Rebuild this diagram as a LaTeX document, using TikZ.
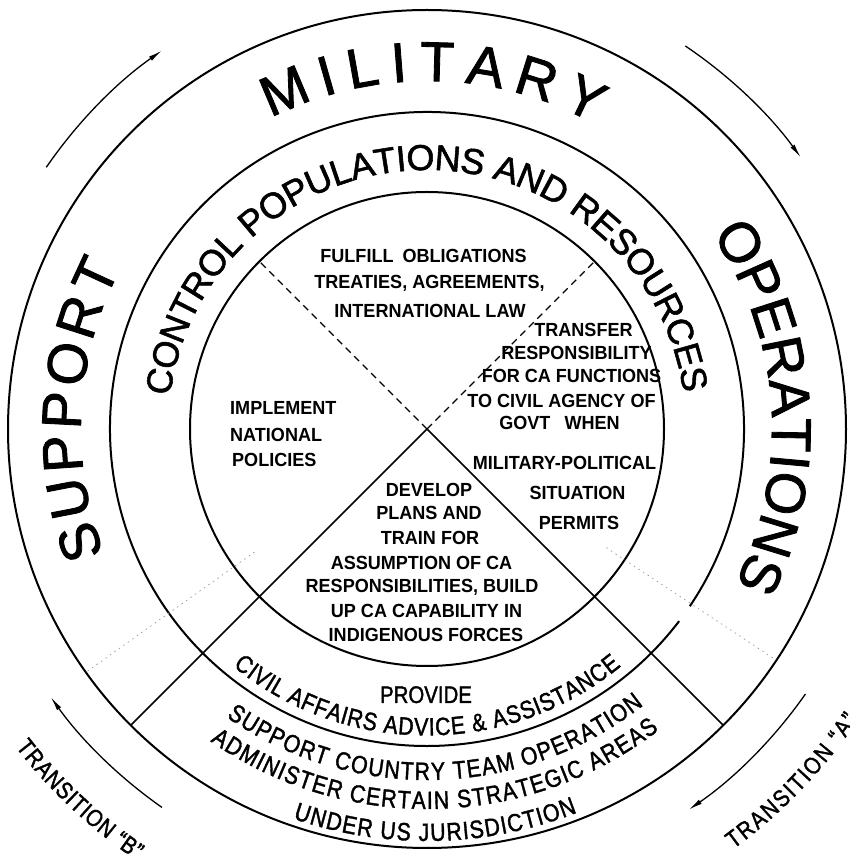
\documentclass[tikz,border=0pt]{standalone}
\usepackage{fontspec}
\setmainfont{Liberation Sans}
\newfontfamily\bigfont{Liberation Sans}[FakeBold=1.5]
\newfontfamily\ringfont{Liberation Sans}[FakeStretch=0.85, FakeBold=1.5]
\newfontfamily\innerfont{Liberation Sans}[FakeStretch=0.95]
\usetikzlibrary{arrows.meta}
\usetikzlibrary{calc}
\usetikzlibrary{decorations.text}

\newcommand\bigword{\bigfont\fontsize{56}{56}\selectfont}
\newcommand\midword{\bigfont\fontsize{36}{36}\selectfont}
\newcommand\lowword{\ringfont\fontsize{25}{25}\selectfont}
\newcommand\sideword{\ringfont\fontsize{24}{24}\selectfont}

\begin{document}
\begin{tikzpicture} [
  x = 1pt, y = 1pt,
  circ/.style = {draw, line width = 2pt},
  spoke/.style = {draw, line width = 1.6pt},
  dashline/.style = {draw, line width = 1.1pt, dash pattern = on 7pt off 5pt},
  faint/.style = {draw, black!45, line width = 0.6pt, dash pattern = on 1.5pt off 4pt},
  flow/.style = {draw, line width = 1.3pt, -{Latex[length=14pt,width=5pt]}},
  txt/.style = {font = \innerfont\bfseries\fontsize{19}{19}\selectfont, inner sep = 0pt, anchor = base},
  txtl/.style = {txt, anchor = base west},
  arctext/.style 2 args = {decorate, decoration = {text along path, text align = {fit to path}, raise = #1, text = {#2}}},
]
\useasboundingbox (0,0) rectangle (850,855);

\coordinate (c) at (427,426);

 \draw [circ] (c) circle [radius = 237];
 \draw [circ] ($(c)+(-34:317)$) arc [start angle = -34, end angle = 322.7, radius = 317];
 \draw [circ] (c) circle [radius = 419];

 \draw [spoke] (c) -- ++(-45:419);
 \draw [spoke] (c) -- ++(225:419);
 \draw [dashline] (c) -- ++(45:237);
 \draw [dashline] (c) -- ++(135:237);
 \draw [faint] ($(c)+(-33.5:215)$) -- ($(c)+(-33.5:418)$);
 \draw [faint] ($(c)+(215.5:212)$) -- ($(c)+(215.5:418)$);

 \draw [flow] ($(c)+(145.5:462)$) arc [start angle = 145.5, end angle = 125, radius = 462];
 \draw [flow] ($(c)+(56:462)$) arc [start angle = 56, end angle = 36, radius = 462];
 \draw [flow] ($(c)+(-35:462)$) arc [start angle = -35, end angle = -55.5, radius = 462];
 \draw [flow] ($(c)+(235:462)$) arc [start angle = 235, end angle = 215.5, radius = 462];

 \path [arctext = {-20pt}{|\bigword|MILITARY}] ($(c)+(116.5:368)$) arc [start angle = 116.5, end angle = 61.5, radius = 368];
 \path [arctext = {-20pt}{|\bigword|SUPPORT}] ($(c)+(201:366)$) arc [start angle = 201, end angle = 152.6, radius = 366];
 \path [arctext = {-20pt}{|\bigword|OPERATIONS}] ($(c)+(34.2:365)$) arc [start angle = 34.2, end angle = -26.5, radius = 365];
 \path [arctext = {-13pt}{|\midword|CONTROL POPULATIONS AND RESOURCES}] ($(c)+(172.6:272)$) arc [start angle = 172.6, end angle = 8.1, radius = 272];

 \path [arctext = {-9pt}{|\lowword|CIVIL AFFAIRS ADVICE {\&} ASSISTANCE}] ($(c)+(230.7:297.5)$) arc [start angle = 230.7, end angle = 309.3, radius = 297.5];
 \path [arctext = {-9pt}{|\lowword|SUPPORT COUNTRY TEAM OPERATION}] ($(c)+(235.1:342)$) arc [start angle = 235.1, end angle = 308.1, radius = 342];
 \path [arctext = {-9pt}{|\lowword|ADMINISTER CERTAIN STRATEGIC AREAS}] ($(c)+(235.2:371)$) arc [start angle = 235.2, end angle = 307.6, radius = 371];
 \path [arctext = {-9pt}{|\lowword|UNDER US JURISDICTION}] ($(c)+(251:403)$) arc [start angle = 251, end angle = 291.4, radius = 403];

 \path [arctext = {-8pt}{|\sideword|TRANSITION “B”}] ($(c)+(217.7:512)$) arc [start angle = 217.7, end angle = 236, radius = 512];
 \path [arctext = {-8pt}{|\sideword|TRANSITION “A”}] ($(c)+(306.1:512)$) arc [start angle = 306.1, end angle = 326, radius = 512];

 \node [txt] (ful) at (423.5,592) {FULFILL\hspace{9pt}OBLIGATIONS};
 \node [txt] (tre) at (429.5,566) {TREATIES, AGREEMENTS,};
 \node [txt] (int) at (430,537) {INTERNATIONAL LAW};

 \node [txt] (trf) at (583.5,518) {TRANSFER};
 \node [txt] (rsp) at (576.5,495) {RESPONSIBILITY};
 \node [txt] (fca) at (571.5,472) {FOR CA FUNCTIONS};
 \node [txt] (tci) at (561.5,447) {TO CIVIL AGENCY OF};
 \node [txt] (gov) at (559.5,425) {GOVT\hspace{14pt}WHEN};
 \node [txt] (mil) at (564.5,385) {MILITARY-POLITICAL};
 \node [txt] (sit) at (577.5,355) {SITUATION};
 \node [txt] (per) at (579,325) {PERMITS};

 \node [txtl] (imp) at (230,440) {IMPLEMENT};
 \node [txtl] (nat) at (230,413) {NATIONAL};
 \node [txtl] (pol) at (232,388) {POLICIES};

 \node [txt] (dev) at (429,358) {DEVELOP};
 \node [txt] (pla) at (429,335) {PLANS AND};
 \node [txt] (tra) at (430,310) {TRAIN FOR};
 \node [txt] (ass) at (421.5,285) {ASSUMPTION OF CA};
 \node [txt] (res) at (422,262) {RESPONSIBILITIES, BUILD};
 \node [txt] (upc) at (426.5,237) {UP CA CAPABILITY IN};
 \node [txt] (ind) at (426,213) {INDIGENOUS FORCES};

 \node [txt, font = \ringfont\fontsize{24}{24}\selectfont] (pro) at (426,152) {PROVIDE};

\end{tikzpicture}
\end{document}
